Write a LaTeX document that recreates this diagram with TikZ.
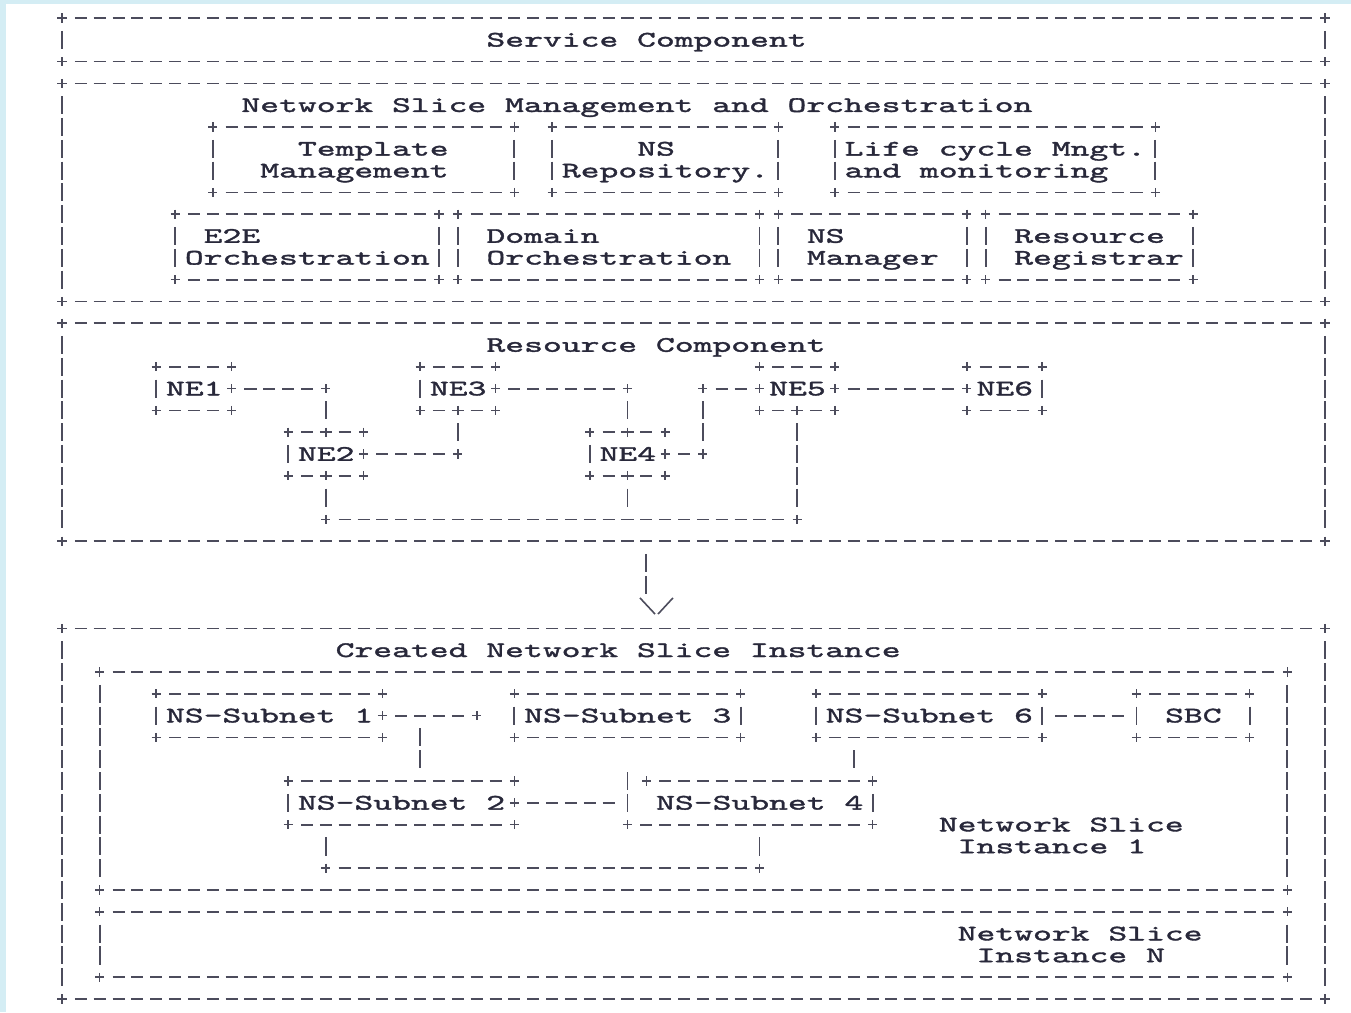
\documentclass[tikz,border=0pt]{standalone}
\usepackage{fontspec}
\usepackage{tikz}
\newfontfamily\asciifont{lmmono10-regular.otf}[FakeStretch=1.62,FakeBold=1.6]
\definecolor{linegray}{HTML}{4C4C5C}
\definecolor{inkblue}{HTML}{28283A}
\definecolor{stripblue}{HTML}{D4EDF4}
% one character cell: 0.377cm wide, 0.436cm high
\newcommand{\plusat}[2]{\draw[plusln] ({#1-0.24},#2)--({#1+0.24},#2) (#1,{#2-0.21})--(#1,{#2+0.21});}
\newcommand{\dashrun}[3]{\draw[dashln] ({#2-0.32},#1)--({#3+0.32},#1);}
\newcommand{\hdash}[3]{\plusat{#2}{#1}\plusat{#3}{#1}\dashrun{#1}{#2+1}{#3-1}}
\newcommand{\vbars}[3]{\draw[barln] (#1,{#2-0.415})--(#1,{#3+0.415});}
\newcommand{\asciibox}[4]{\hdash{#2}{#1}{#3}\hdash{#4}{#1}{#3}\vbars{#1}{#2+1}{#4-1}\vbars{#3}{#2+1}{#4-1}}

\begin{document}
\begin{tikzpicture}[x=0.377cm,y=-0.436cm,
  plusln/.style={linegray,line width=0.9pt},
  dashln/.style={linegray,line width=1pt,dash pattern=on 0.2413cm off 0.1357cm},
  barln/.style={linegray,line width=1.1pt,dash pattern=on 0.3619cm off 0.0741cm},
  lbl/.style={font={\asciifont\fontsize{12.6pt}{14pt}\selectfont},text=inkblue,inner sep=0pt,
    anchor=base west,xshift=-0.1885cm,yshift=-0.1352cm}]
  \fill[white] (-0.289,-0.826) rectangle (71.38,45.60);
  \fill[stripblue] (-0.289,-0.826) rectangle (0.029,45.60);
  \fill[stripblue] (-0.289,-0.826) rectangle (71.38,-0.665);
  \useasboundingbox (-0.289,-0.826) rectangle (71.38,45.60);

  % service component
  \asciibox{3}{0}{70}{2}
  \node[lbl] (service) at (26,1) {Service Component};

  % management and orchestration
  \asciibox{3}{3}{70}{13}
  \node[lbl] (nsmo) at (13,4) {Network Slice Management and Orchestration};
  \asciibox{11}{5}{27}{8}
  \asciibox{29}{5}{41}{8}
  \asciibox{44}{5}{61}{8}
  \node[lbl] (tmpl) at (16,6) {Template};
  \node[lbl] (tmplb) at (14,7) {Management};
  \node[lbl] (repo) at (34,6) {NS};
  \node[lbl] (repob) at (30,7) {Repository.};
  \node[lbl] (life) at (45,6) {Life cycle Mngt.};
  \node[lbl] (lifeb) at (45,7) {and monitoring};
  \asciibox{9}{9}{23}{12}
  \asciibox{24}{9}{40}{12}
  \asciibox{41}{9}{51}{12}
  \asciibox{52}{9}{63}{12}
  \node[lbl] (e2e) at (11,10) {E2E};
  \node[lbl] (e2eb) at (10,11) {Orchestration};
  \node[lbl] (dom) at (26,10) {Domain};
  \node[lbl] (domb) at (26,11) {Orchestration};
  \node[lbl] (mgr) at (43,10) {NS};
  \node[lbl] (mgrb) at (43,11) {Manager};
  \node[lbl] (reg) at (54,10) {Resource};
  \node[lbl] (regb) at (54,11) {Registrar};

  % resource component
  \asciibox{3}{14}{70}{24}
  \node[lbl] (res) at (26,15) {Resource Component};
  \hdash{16}{8}{12} \hdash{18}{8}{12} \vbars{8}{17}{17}
  \node[lbl] (ne1) at (9,17) {NE1};
  \hdash{17}{12}{17} \vbars{17}{18}{18}
  \hdash{19}{15}{19} \plusat{17}{19} \hdash{21}{15}{19} \plusat{17}{21} \vbars{15}{20}{20}
  \node[lbl] (ne2) at (16,20) {NE2};
  \hdash{20}{19}{24} \vbars{17}{22}{22}
  \hdash{16}{22}{26} \hdash{18}{22}{26} \plusat{24}{18} \vbars{22}{17}{17} \vbars{24}{19}{19}
  \node[lbl] (ne3) at (23,17) {NE3};
  \hdash{17}{26}{33} \vbars{33}{18}{18}
  \hdash{19}{31}{35} \plusat{33}{19} \hdash{21}{31}{35} \plusat{33}{21} \vbars{31}{20}{20}
  \node[lbl] (ne4) at (32,20) {NE4};
  \hdash{20}{35}{37} \vbars{37}{18}{19} \hdash{17}{37}{40} \vbars{33}{22}{22}
  \hdash{16}{40}{44} \hdash{18}{40}{44} \plusat{42}{18}
  \node[lbl] (ne5) at (41,17) {NE5};
  \hdash{17}{44}{51} \vbars{42}{19}{22} \hdash{23}{17}{42}
  \hdash{16}{51}{55} \hdash{18}{51}{55} \vbars{55}{17}{17}
  \node[lbl] (ne6) at (52,17) {NE6};

  % arrow down
  \vbars{34}{25}{26}
  \draw[plusln] (33.66,26.6)--(34.46,27.34) (34.62,27.34)--(35.41,26.6);

  % created slice instance
  \asciibox{3}{28}{70}{45}
  \node[lbl] (created) at (18,29) {Created Network Slice Instance};
  \asciibox{5}{30}{68}{40}
  \hdash{31}{8}{20} \hdash{33}{8}{20} \vbars{8}{32}{32}
  \node[lbl] (sub1) at (9,32) {NS-Subnet 1};
  \hdash{32}{20}{25} \vbars{22}{33}{34}
  \asciibox{27}{31}{39}{33}
  \node[lbl] (sub3) at (28,32) {NS-Subnet 3};
  \asciibox{43}{31}{55}{33}
  \node[lbl] (sub6) at (44,32) {NS-Subnet 6};
  \dashrun{32}{56}{59}
  \asciibox{60}{31}{66}{33}
  \node[lbl] (sbc) at (62,32) {SBC};
  \vbars{45}{34}{34}
  \hdash{35}{15}{27} \hdash{37}{15}{27} \vbars{15}{36}{36}
  \node[lbl] (sub2) at (16,36) {NS-Subnet 2};
  \plusat{27}{36} \dashrun{36}{28}{32}
  \hdash{35}{34}{46} \hdash{37}{33}{46} \vbars{33}{35}{36} \vbars{46}{36}{36}
  \node[lbl] (sub4) at (35,36) {NS-Subnet 4};
  \vbars{17}{38}{38} \vbars{40}{38}{38} \hdash{39}{17}{40}
  \node[lbl] (nsi1) at (50,37) {Network Slice};
  \node[lbl] (nsi1b) at (51,38) {Instance 1};
  \asciibox{5}{41}{68}{44}
  \node[lbl] (nsin) at (51,42) {Network Slice};
  \node[lbl] (nsinb) at (52,43) {Instance N};
\end{tikzpicture}
\end{document}
